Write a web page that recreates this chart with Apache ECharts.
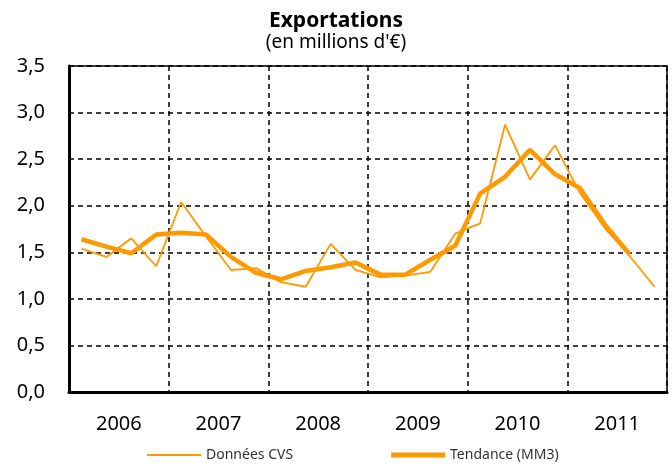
<!DOCTYPE html>
<html>
<head>
<meta charset="utf-8">
<script src="https://cdn.jsdelivr.net/npm/echarts@6/dist/echarts.min.js"></script>
<style>
  html, body { margin: 0; padding: 0; background: #fff; }
  #chart { width: 672px; height: 474px; }
</style>
</head>
<body>
<div id="chart"></div>
<script>
// années affichées sur l'axe
const years = ['2006', '2007', '2008', '2009', '2010', '2011']

// données trimestrielles, T1 2006 -> T4 2011
const donneesCVS = [
  1.54, 1.45, 1.65, 1.35,
  2.04, 1.67, 1.31, 1.33,
  1.18, 1.13, 1.59, 1.31,
  1.23, 1.25, 1.29, 1.70,
  1.81, 2.87, 2.28, 2.65,
  2.14, 1.76, 1.46, 1.13
]
const tendanceMM3 = [
  1.64, 1.56, 1.49, 1.69,
  1.71, 1.69, 1.45, 1.28,
  1.21, 1.30, 1.34, 1.39,
  1.26, 1.26, 1.42, 1.57,
  2.13, 2.31, 2.60, 2.34,
  2.19, 1.80, 1.48, null
]

const orange = '#FF9900'
const font = 'Noto Sans'

// position au milieu de chaque trimestre
const toPoints = arr => arr.map((v, i) => [i + 0.5, v])

const chart = echarts.init(document.getElementById('chart'))

chart.setOption({
  animation: false,
  backgroundColor: '#fff',
  title: {
    text: 'Exportations',
    subtext: "(en millions d'€)",
    left: 'center',
    top: 6,
    itemGap: 1,
    textStyle: { fontFamily: font, fontSize: 21, fontWeight: 'bold', color: '#000' },
    subtextStyle: { fontFamily: font, fontSize: 19, color: '#000' }
  },
  legend: {
    bottom: 7,
    left: 142,
    itemWidth: 54,
    itemHeight: 10,
    itemGap: 98,
    textStyle: { fontFamily: font, fontSize: 14, color: '#333' },
    data: [
      { name: 'Données CVS', icon: 'path://M0,0H54V2H0Z', itemStyle: { color: orange } },
      { name: 'Tendance (MM3)', icon: 'path://M0,0H54V5H0Z', itemStyle: { color: orange } }
    ]
  },
  grid: {
    left: 69,
    right: 5,
    top: 66,
    bottom: 82,
    show: true,
    borderColor: '#000',
    borderWidth: 1.5
  },
  xAxis: [
    {
      type: 'category',
      data: years,
      boundaryGap: true,
      axisLine: { lineStyle: { color: '#000', width: 3 } },
      axisTick: { show: false },
      axisLabel: { color: '#000', fontFamily: font, fontSize: 20, margin: 22 },
      splitLine: {
        show: true,
        interval: 0,
        lineStyle: { color: '#000', type: [5, 4], width: 1.5 }
      }
    },
    {
      type: 'value',
      min: 0,
      max: 24,
      show: false
    }
  ],
  yAxis: {
    type: 'value',
    min: 0,
    max: 3.5,
    interval: 0.5,
    axisLine: { show: true, lineStyle: { color: '#000', width: 3 } },
    axisTick: { show: false },
    axisLabel: {
      color: '#000',
      fontFamily: font,
      fontSize: 20,
      margin: 24,
      formatter: v => v.toFixed(1).replace('.', ',')
    },
    splitLine: { lineStyle: { color: '#000', type: [5, 4], width: 1.5 } }
  },
  series: [
    {
      name: 'Données CVS',
      type: 'line',
      xAxisIndex: 1,
      data: toPoints(donneesCVS),
      symbol: 'none',
      lineStyle: { color: orange, width: 1.8 },
      itemStyle: { color: orange }
    },
    {
      name: 'Tendance (MM3)',
      type: 'line',
      xAxisIndex: 1,
      data: toPoints(tendanceMM3),
      symbol: 'none',
      lineStyle: { color: orange, width: 4.5 },
      itemStyle: { color: orange }
    }
  ]
})
</script>
</body>
</html>
